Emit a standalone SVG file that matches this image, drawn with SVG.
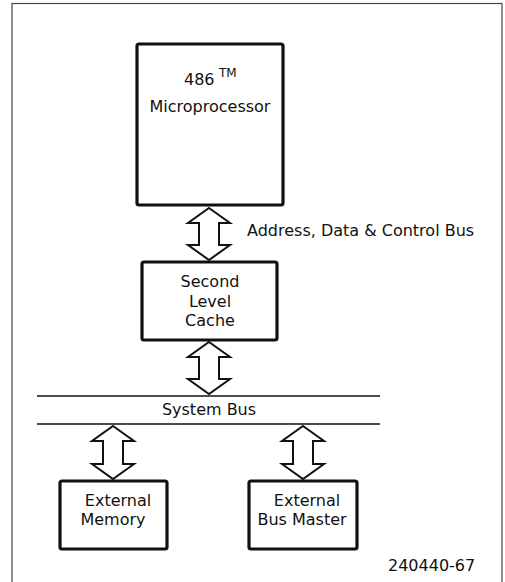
<svg xmlns="http://www.w3.org/2000/svg" width="505" height="582" viewBox="0 0 505 582">
<style>
text{font-family:"DejaVu Sans","Liberation Sans",sans-serif;font-size:16px;fill:#111}
.c{text-anchor:middle}
.box{fill:#fff;stroke:#111;stroke-width:3.2}
.arr{fill:#fff;stroke:#111;stroke-width:2;stroke-linejoin:miter}
.bus{stroke:#111;stroke-width:1.6}
</style>
<rect width="505" height="582" fill="#fff"/>
<rect x="12" y="3.5" width="490" height="590" fill="none" stroke="#444" stroke-width="1.2"/>
<g id="cpu">
<rect class="box" x="137" y="44" width="146" height="161" rx="2"/>
<text x="184" y="85">486</text>
<text x="219" y="77" style="font-size:12px">TM</text>
<text class="c" x="210" y="112">Microprocessor</text>
</g>
<g id="cache">
<rect class="box" x="142" y="262" width="135" height="78" rx="2"/>
<text class="c" x="210" y="287">Second</text>
<text class="c" x="210" y="306.5">Level</text>
<text class="c" x="210" y="326">Cache</text>
</g>
<g id="sysbus">
<line class="bus" x1="37" y1="396" x2="380" y2="396"/>
<line class="bus" x1="37" y1="424" x2="380" y2="424"/>
<text class="c" x="209" y="415">System Bus</text>
</g>
<g id="memory">
<rect class="box" x="60" y="481" width="107" height="68" rx="2"/>
<text class="c" x="118" y="506">External</text>
<text class="c" x="113" y="525">Memory</text>
</g>
<g id="busmaster">
<rect class="box" x="249" y="481" width="108" height="68" rx="2"/>
<text class="c" x="307" y="506">External</text>
<text class="c" x="302" y="525">Bus Master</text>
</g>
<g id="connectors">
<path class="arr" d="M209,208 L230,223 L219,223 L219,245 L230,245 L209,260 L188,245 L199,245 L199,223 L188,223 Z"/>
<path class="arr" d="M209,342 L230,357 L219,357 L219,379 L230,379 L209,394 L188,379 L199,379 L199,357 L188,357 Z"/>
<path class="arr" d="M113,426 L134,441 L123,441 L123,464 L134,464 L113,479 L92,464 L103,464 L103,441 L92,441 Z"/>
<path class="arr" d="M303,426 L324,441 L313,441 L313,464 L324,464 L303,479 L282,464 L293,464 L293,441 L282,441 Z"/>
<text x="247" y="236">Address, Data &amp; Control Bus</text>
</g>
<text x="388" y="571">240440-67</text>
</svg>
